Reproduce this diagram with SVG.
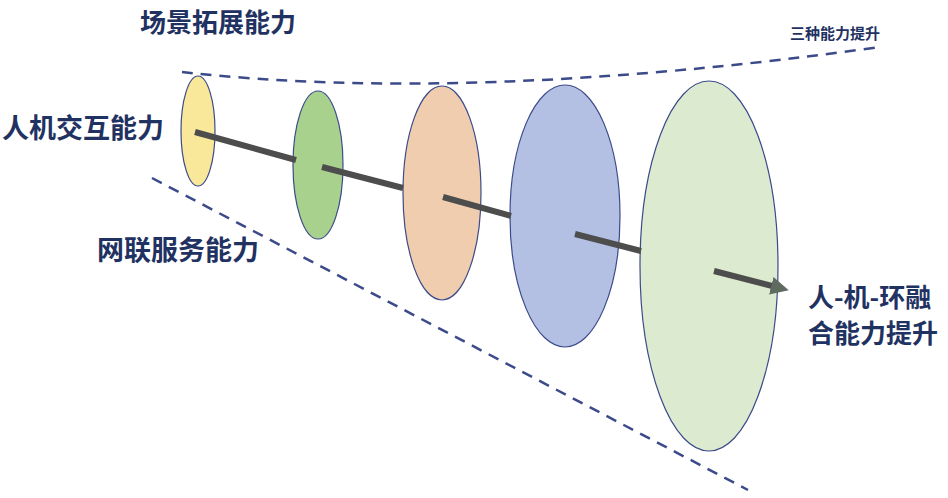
<svg xmlns="http://www.w3.org/2000/svg" width="948" height="498" viewBox="0 0 948 498">
<style>
.t{font-family:"Noto Sans CJK SC","Noto Sans",sans-serif;font-weight:bold;fill:#1f3262}
.d{fill:none;stroke:#3b4b8a;stroke-width:2.5;stroke-dasharray:11 8}
.e{stroke:#3b4b8a;stroke-width:1.2}
.s{stroke:#4d4d4d;stroke-width:6;fill:none}
</style>
<defs><marker id="ah" markerWidth="3" markerHeight="3" refX="1.5" refY="1.5" orient="auto" markerUnits="strokeWidth"><path d="M0,0 L3,1.5 L0,3 Z" fill="#5f6b5f"/></marker></defs>
<rect width="948" height="498" fill="#fff"/>
<g id="guides">
<path class="d" d="M182,72 Q470,104 880,47"/>
<path class="d" d="M152,178 L748,490"/>
</g>
<g id="n1"><ellipse class="e" cx="198" cy="131" rx="17" ry="55" fill="#f9e79a"/></g>
<g id="n2"><ellipse class="e" cx="318" cy="165" rx="25" ry="74" fill="#a9d18e"/></g>
<g id="n3"><ellipse class="e" cx="442" cy="193" rx="39" ry="107" fill="#f0cdaf"/></g>
<g id="n4"><ellipse class="e" cx="565" cy="216" rx="55" ry="131" fill="#b4c0e3"/></g>
<g id="n5"><ellipse class="e" cx="709" cy="266" rx="69" ry="185" fill="#dcebd0"/></g>
<g id="connectors">
<line class="s" x1="195" y1="132" x2="296" y2="160"/>
<line class="s" x1="322" y1="167" x2="403" y2="188"/>
<line class="s" x1="443" y1="197" x2="511" y2="216"/>
<line class="s" x1="575" y1="234" x2="641" y2="251"/>
<line class="s" x1="714" y1="271" x2="780" y2="288" marker-end="url(#ah)" stroke="#5f6b5f"/>
</g>
<g id="labels">
<text class="t" x="140" y="32" font-size="26">场景拓展能力</text>
<text class="t" x="2" y="138" font-size="27">人机交互能力</text>
<text class="t" x="97" y="260" font-size="27">网联服务能力</text>
<text class="t" x="790" y="39" font-size="15">三种能力提升</text>
<text class="t" x="808" y="307" font-size="26">人-机-环融</text>
<text class="t" x="808" y="343" font-size="26">合能力提升</text>
</g>
</svg>
